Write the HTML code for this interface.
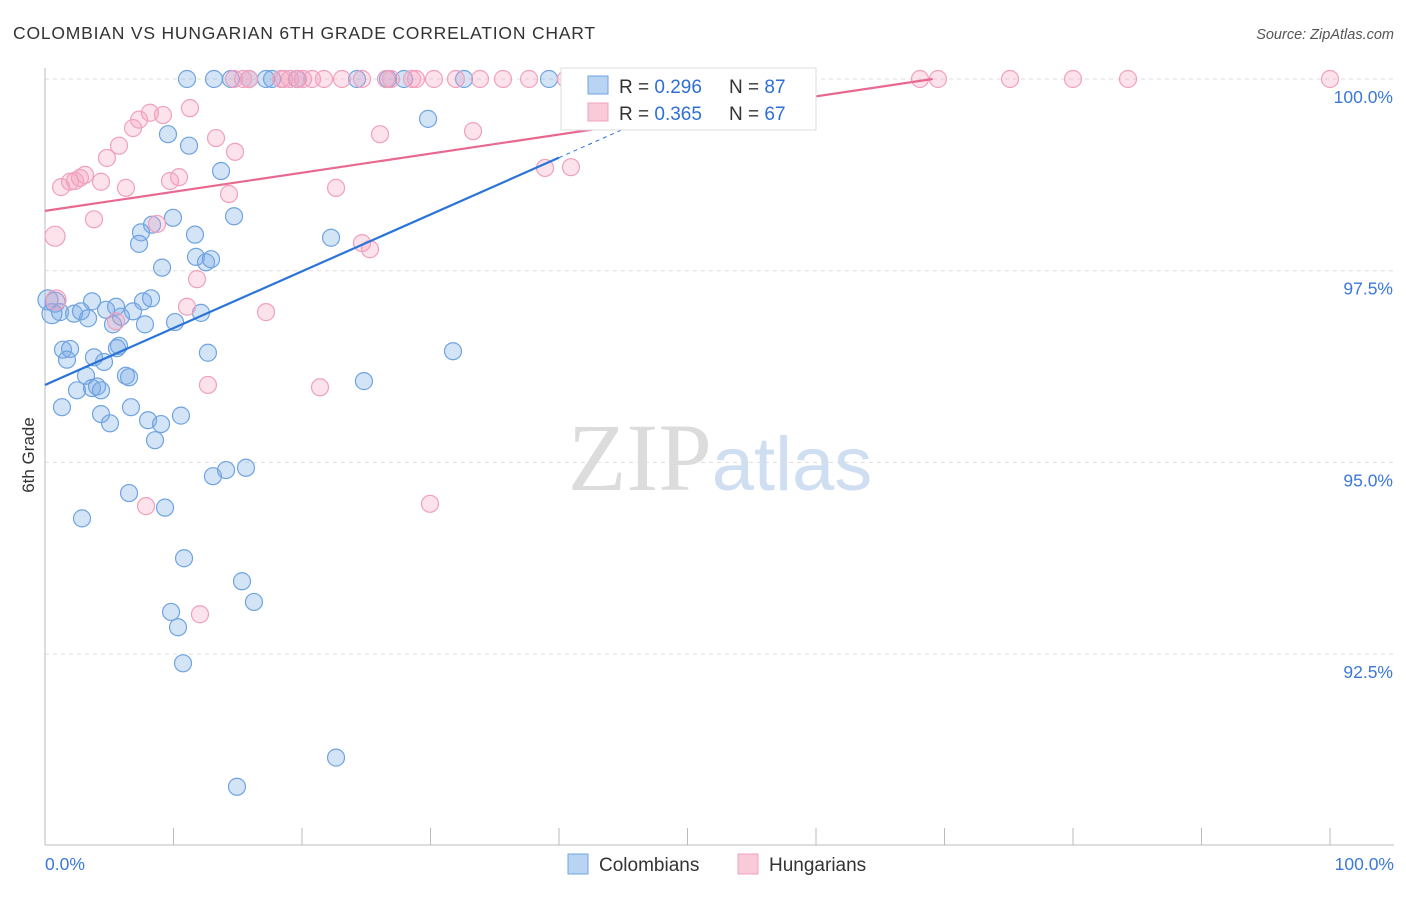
<!DOCTYPE html>
<html><head><meta charset="utf-8"><style>
body{margin:0;background:#fff;font-family:"Liberation Sans",sans-serif;}
svg text{font-family:"Liberation Sans",sans-serif;}
</style></head><body>
<svg id="chart" width="1406" height="892" xmlns="http://www.w3.org/2000/svg">
<text x="13" y="39" font-size="17.5" fill="#333" letter-spacing="0.8">COLOMBIAN VS HUNGARIAN 6TH GRADE CORRELATION CHART</text>
<text x="1394" y="39" font-size="14.5" fill="#555" text-anchor="end" font-style="italic">Source: ZipAtlas.com</text>
<text x="720" y="490" font-size="96" text-anchor="middle"><tspan fill="#dcdcdc" font-family="Liberation Serif">ZIP</tspan><tspan fill="#d0def2" font-size="76">atlas</tspan></text>
<g id="grid"></g><g id="axes"></g><g id="pts"></g><g id="trends"></g>
<g>
<rect x="561" y="68" width="255" height="62" fill="#fff" stroke="#ddd"/>
<rect x="588" y="76" width="20" height="18" fill="#b9d3f3" stroke="#6fa3e0"/>
<text x="619" y="93" font-size="19" fill="#333">R = <tspan fill="#2f6fd6">0.296</tspan></text>
<text x="729" y="93" font-size="19" fill="#333">N = <tspan fill="#2f6fd6">87</tspan></text>
<rect x="588" y="103" width="20" height="18" fill="#f9cbd9" stroke="#f0a0bd"/>
<text x="619" y="120" font-size="19" fill="#333">R = <tspan fill="#2f6fd6">0.365</tspan></text>
<text x="729" y="120" font-size="19" fill="#333">N = <tspan fill="#2f6fd6">67</tspan></text>
</g>
<g>
<rect x="568" y="854" width="20" height="20" fill="#b9d3f3" stroke="#6fa3e0"/>
<text x="599" y="871" font-size="19" fill="#333">Colombians</text>
<rect x="738" y="854" width="20" height="20" fill="#f9cbd9" stroke="#f0a0bd"/>
<text x="769" y="871" font-size="19" fill="#333">Hungarians</text>
</g>
<text transform="translate(34,455) rotate(-90)" font-size="17" fill="#333" text-anchor="middle">6th Grade</text>
</svg>
<script>
const yTicks=[100,97.5,95,92.5];
const yTickLabels=["100.0%","97.5%","95.0%","92.5%"];
const blueX=[11.05,13.15,14.47,15.88,17.2,17.67,19.61,24.28,26.69,27.94,32.61,39.22,29.81,9.57,11.21,13.7,14.71,9.96,8.33,7.47,7.32,11.67,22.26,9.11,11.75,12.53,12.92,0.23,0.78,1.17,3.66,0.54,2.26,2.8,3.35,4.75,5.53,6.85,7.63,8.25,10.12,12.14,5.29,5.91,7.78,1.4,1.95,1.71,3.81,4.59,5.76,5.6,12.68,31.75,3.19,6.3,6.54,24.82,2.49,3.66,4.05,4.36,1.32,4.36,5.06,6.69,8.02,9.03,10.58,8.56,13.07,14.09,15.64,6.54,9.34,2.88,10.82,15.33,16.26,9.81,10.35,10.74,22.65,14.94];
const blueY=[100,100,100,100,100,100,100,100,100,100,100,100,99.48,99.28,99.13,98.8,98.21,98.19,98.1,98.0,97.85,97.97,97.93,97.54,97.68,97.61,97.65,97.12,97.09,96.96,97.1,96.94,96.94,96.97,96.88,96.99,97.03,96.97,97.1,97.14,96.83,96.95,96.8,96.9,96.8,96.47,96.48,96.34,96.37,96.31,96.52,96.49,96.43,96.45,96.13,96.13,96.11,96.06,95.94,95.97,95.99,95.94,95.72,95.63,95.51,95.72,95.55,95.5,95.61,95.29,94.82,94.9,94.93,94.6,94.41,94.27,93.75,93.45,93.18,93.05,92.85,92.38,91.15,90.77];
const pinkX=[15.88,18.37,18.6,19.07,19.69,20.08,20.78,21.71,23.11,24.67,26.54,26.93,28.56,28.87,30.27,31.98,33.85,35.64,37.67,40.54,43.5,45.76,53.93,68.09,69.49,75.1,80.0,84.28,100.0,15.41,14.71,11.28,8.17,9.18,7.32,6.85,13.31,26.07,33.31,5.76,14.79,4.82,3.11,2.72,1.95,2.33,4.36,1.25,6.3,10.43,9.73,14.32,22.65,38.91,40.93,3.81,8.72,0.78,24.67,25.29,11.83,11.05,17.2,5.53,12.68,21.4,0.86,7.86,29.96,12.06];
const pinkY=[100,100,100,100,100,100,100,100,100,100,100,100,100,100,100,100,100,100,100,100,100,100,100,100,100,100,100,100,100,100,100,99.62,99.56,99.53,99.47,99.36,99.23,99.28,99.32,99.13,99.05,98.97,98.75,98.71,98.66,98.67,98.66,98.59,98.58,98.72,98.67,98.5,98.58,98.84,98.85,98.17,98.11,97.95,97.86,97.78,97.39,97.03,96.96,96.84,96.01,95.98,97.12,94.43,94.46,93.02];
const blueTrend=[96.01,0.0741]; // intercept, slope
const pinkTrend=[98.28,0.0249];
const NS="http://www.w3.org/2000/svg";
const X=v=>45+v*12.85, Y=v=>79+(100-v)*76.68;
function mk(t,a,p){const e=document.createElementNS(NS,t);for(const k in a)e.setAttribute(k,a[k]);p.appendChild(e);return e;}
const grid=document.getElementById('grid'),axes=document.getElementById('axes');
yTicks.forEach((t,i)=>{
 const l=mk('line',{x1:45,x2:1394,y1:Y(t),y2:Y(t),stroke:'#ddd','stroke-dasharray':'4,4'},grid);
 
 
 const tx=mk('text',{x:1393,y:Y(t)+24,'font-size':17.5,fill:'#3b78d8','text-anchor':'end'},axes);
 tx.textContent=yTickLabels[i];
 
 
});
const ax=mk('line',{x1:45,x2:45,y1:68,y2:845,stroke:'#bbb'},axes);


const bx=mk('line',{x1:45,x2:1394,y1:845,y2:845,stroke:'#bbb'},axes);


for(let i=0;i<=10;i++){const t=mk('line',{x1:X(i*10),x2:X(i*10),y1:828,y2:845,stroke:'#bbb'},axes);
 
 }
[["0.0%",45,'start'],["100.0%",1394,'end']].forEach(d=>{const t=mk('text',{x:d[1],y:870,'font-size':17.5,fill:'#3b78d8','text-anchor':d[2]},axes);t.textContent=d[0];
 
 });
const pts=document.getElementById('pts');
blueX.forEach((x,i)=>{const c=mk('circle',{cx:X(x),cy:Y(blueY[i]),r:x<1?10:8.5,fill:'rgba(120,170,230,0.32)',stroke:'#6fa3e0','stroke-width':1.2},pts);
 
 });
pinkX.forEach((x,i)=>{const c=mk('circle',{cx:X(x),cy:Y(pinkY[i]),r:x<1?10:8.5,fill:'rgba(245,160,190,0.3)',stroke:'#f0a0bd','stroke-width':1.2},pts);
 
 });
const tr=document.getElementById('trends');
const b1=mk('line',{x1:X(0),y1:Y(blueTrend[0]),x2:X(40),y2:Y(blueTrend[0]+40*blueTrend[1]),stroke:'#2a74d8','stroke-width':2.2},tr);


const b2=mk('line',{x1:X(40),y1:Y(blueTrend[0]+40*blueTrend[1]),x2:X(46.5),y2:Y(blueTrend[0]+46.5*blueTrend[1]),stroke:'#2a74d8','stroke-width':1,'stroke-dasharray':'4,4'},tr);


const pe=(100-pinkTrend[0])/pinkTrend[1];
const p1=mk('line',{x1:X(0),y1:Y(pinkTrend[0]),x2:X(pe),y2:Y(100),stroke:'#e8688f','stroke-width':2.2},tr);


</script>
</body></html>
